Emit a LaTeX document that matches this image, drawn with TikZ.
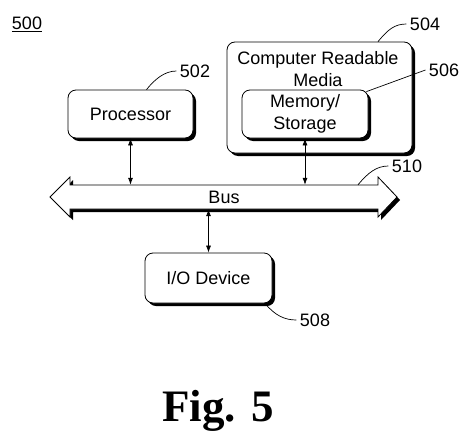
\documentclass[tikz,border=0pt]{standalone}
\usepackage{fontspec}
\setmainfont{Liberation Sans}
\newfontfamily\figfont{Liberation Serif}
\usepackage{tikz}
\usetikzlibrary{positioning,arrows.meta,shapes,shadows,calc}

\begin{document}
\begin{tikzpicture}[
  x=1pt, y=-1pt,
  every node/.style={font=\fontsize{18}{22}\selectfont},
  box/.style={draw, rounded corners=8pt, fill=white, line width=0.8pt, align=center,
    drop shadow={shadow xshift=3pt, shadow yshift=-3pt, opacity=1, fill=black}},
  arrow/.style={{Latex[length=7pt,width=5pt]}-{Latex[length=7pt,width=5pt]}, line width=0.7pt},
  leader/.style={line width=0.7pt}
]
\useasboundingbox (0,0) rectangle (470,439);

\node (l500) at (27,24) {\underline{500}};

\node[box, minimum width=125pt, minimum height=48pt] (proc) at (130.5,114) {Processor};
\node[box, minimum width=185pt, minimum height=111pt] (crm) at (319.5,97.5) {};
\node[align=center] (crmtext) at (318,69) {Computer Readable\\Media};
\node[box, minimum width=126pt, minimum height=48pt] (mem) at (305,114) {Memory/\\Storage};
\node[box, minimum width=127pt, minimum height=50pt] (io) at (208.5,278) {I/O Device};

\fill[black] (53,200) -- (73,180) -- (73,188) -- (381,188) -- (381,180) -- (400,200)
  -- (381,220) -- (381,212) -- (73,212) -- (73,220) -- cycle;
\filldraw[fill=white, line width=0.8pt] (50,197) -- (70,177) -- (70,185) -- (378,185) -- (378,177) -- (397,197)
  -- (378,217) -- (378,209) -- (70,209) -- (70,217) -- cycle;
\node[minimum width=308pt, minimum height=24pt, inner sep=0pt] (bus) at (224,197) {Bus};

\draw[arrow] (proc.south) -- (proc.south |- bus.north);
\draw[arrow] (mem.south) -- (mem.south |- bus.north);
\draw[arrow] (io.north) -- (io.north |- bus.south);

\node (l502) at (195,71) {502};
\node (l504) at (425,24) {504};
\node (l506) at (444,70) {506};
\node (l508) at (315,320) {508};
\node (l510) at (407,166) {510};

\draw[leader] ([xshift=16pt]proc.north) .. controls +(8,-10) and +(-12,0) .. (l502.west);
\draw[leader] ([xshift=58.5pt]crm.north) .. controls +(10,-12) and +(-12,0) .. (l504.west);
\draw[leader] ([xshift=-2pt,yshift=-2pt]mem.north east) -- (l506.west);
\draw[leader] ([xshift=56.5pt]io.south) .. controls +(10,12) and +(-12,0) .. (l508.west);
\draw[leader] ([xshift=134pt]bus.north) .. controls +(10,-12) and +(-12,0) .. (l510.west);

\node[font=\figfont\bfseries\fontsize{45}{50}\selectfont] (fig) at (218,411) {Fig. 5};
\end{tikzpicture}
\end{document}
